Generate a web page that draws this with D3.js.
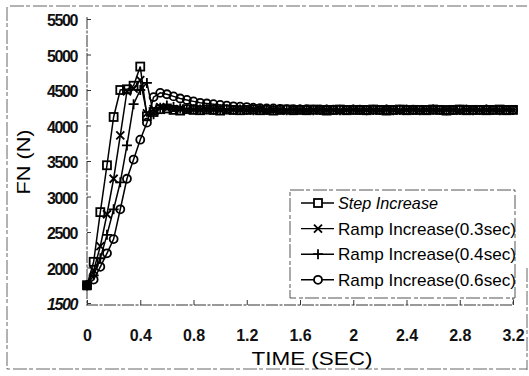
<!DOCTYPE html>
<html>
<head>
<meta charset="utf-8">
<script src="https://cdn.jsdelivr.net/npm/d3@7/dist/d3.min.js"></script>
<style>
  body { margin: 0; background: #fff; }
  svg { display: block; font-family: "Liberation Sans", Arial, sans-serif; }
</style>
</head>
<body>
<svg id="chart" width="529" height="376"></svg>
<script>
// sample times (sec)
const times = [0, 0.05, 0.1, 0.15, 0.2, 0.25, 0.3, 0.35, 0.4, 0.45, 0.5, 0.55, 0.6, 0.65, 0.7, 0.75,
  0.8, 0.85, 0.9, 0.95, 1.0, 1.05, 1.1, 1.15, 1.2, 1.25, 1.3, 1.35, 1.4, 1.45, 1.5, 1.55,
  1.6, 1.65, 1.7, 1.75, 1.8, 1.85, 1.9, 1.95, 2.0, 2.05, 2.1, 2.15, 2.2, 2.25, 2.3, 2.35,
  2.4, 2.45, 2.5, 2.55, 2.6, 2.65, 2.7, 2.75, 2.8, 2.85, 2.9, 2.95, 3.0, 3.05, 3.1, 3.15, 3.2];

// FN (N) per series
const stepIncrease = [1750, 2080, 2780, 3440, 4120, 4500, 4510, 4560, 4830, 4130, 4190, 4230, 4240, 4220, 4210, 4230,
  4220, 4215, 4225, 4220, 4210, 4225, 4220, 4215, 4220, 4225, 4215, 4220, 4210, 4220, 4225, 4215,
  4220, 4215, 4225, 4220, 4210, 4220, 4225, 4215, 4220, 4220, 4215, 4225, 4220, 4210, 4220, 4225,
  4215, 4220, 4220, 4215, 4225, 4220, 4210, 4220, 4225, 4215, 4220, 4220, 4215, 4220, 4225, 4215, 4220];
const ramp03 = [1750, 1960, 2300, 2750, 3250, 3860, 4480, 4520, 4640, 4170, 4230, 4260, 4240, 4220, 4230, 4215,
  4225, 4220, 4215, 4225, 4220, 4210, 4225, 4220, 4215, 4220, 4225, 4215, 4220, 4220, 4210, 4225,
  4220, 4215, 4220, 4225, 4215, 4220, 4210, 4220, 4225, 4215, 4220, 4220, 4215, 4225, 4220, 4210,
  4220, 4225, 4215, 4220, 4220, 4215, 4225, 4220, 4210, 4220, 4225, 4215, 4220, 4220, 4215, 4225, 4220];
const ramp04 = [1750, 1890, 2130, 2460, 2820, 3200, 3720, 4300, 4500, 4600, 4160, 4250, 4280, 4260, 4240, 4235,
  4230, 4225, 4230, 4220, 4225, 4230, 4220, 4225, 4220, 4215, 4225, 4220, 4220, 4225, 4215, 4220,
  4225, 4220, 4215, 4220, 4225, 4220, 4215, 4220, 4225, 4220, 4215, 4220, 4220, 4225, 4215, 4220,
  4225, 4220, 4215, 4220, 4225, 4220, 4215, 4220, 4220, 4225, 4215, 4220, 4225, 4220, 4215, 4220, 4220];
const ramp06 = [1750, 1830, 2010, 2200, 2400, 2820, 3250, 3520, 3800, 4040, 4400, 4460, 4440, 4410, 4380, 4360,
  4340, 4320, 4310, 4300, 4290, 4280, 4270, 4265, 4260, 4250, 4245, 4240, 4240, 4235, 4230, 4232,
  4228, 4230, 4225, 4228, 4225, 4222, 4225, 4220, 4225, 4222, 4220, 4225, 4220, 4222, 4220, 4225,
  4220, 4222, 4220, 4218, 4222, 4220, 4220, 4218, 4222, 4220, 4218, 4220, 4222, 4220, 4218, 4220, 4220];

const seriesNames = ['Step Increase', 'Ramp Increase(0.3sec)', 'Ramp Increase(0.4sec)', 'Ramp Increase(0.6sec)'];
const seriesValues = [stepIncrease, ramp03, ramp04, ramp06];
const seriesMarkers = ['square', 'cross', 'plus', 'circle'];

const xTicks = [0, 0.4, 0.8, 1.2, 1.6, 2, 2.4, 2.8, 3.2];
const yTicks = [1500, 2000, 2500, 3000, 3500, 4000, 4500, 5000, 5500];

const svg = d3.select('#chart');

const x = d3.scaleLinear().domain([0, 3.2]).range([87, 513]);
const y = d3.scaleLinear().domain([1500, 5500]).range([303, 19]);

// scanned outer frame
svg.append('path')
  .attr('d', 'M10,6 H527 M7,7 V369 H527 M527,268 V370')
  .attr('fill', 'none')
  .attr('stroke', '#666')
  .attr('stroke-width', 1)
  .attr('stroke-dasharray', '14,2,4,3');

// y axis
const yAxis = svg.append('g')
  .attr('transform', `translate(${x(0)},0)`)
  .call(d3.axisLeft(y).tickValues(yTicks).tickSizeInner(-4).tickSizeOuter(0).tickPadding(10)
    .tickFormat(d3.format('d')));
yAxis.select('.domain').attr('d', `M0,${y(5500) - 2} V${y(1500) + 2}`)
  .attr('stroke', '#333').attr('stroke-dasharray', '12,1.5,3,1.5');
yAxis.selectAll('.tick line').attr('stroke', '#333');
yAxis.selectAll('.tick text')
  .attr('font-size', 16).attr('font-weight', 'bold').attr('fill', '#111')
  .attr('letter-spacing', -1.4).attr('dy', '0.42em')
  .attr('font-style', (d) => d === 1500 ? 'italic' : 'normal');

// x axis
const xAxis = svg.append('g')
  .attr('transform', `translate(0,${y(1500) + 2})`)
  .call(d3.axisBottom(x).tickValues(xTicks).tickSizeInner(-5).tickSizeOuter(0).tickPadding(25)
    .tickFormat((d) => d3.format('')(d)));
xAxis.select('.domain').attr('d', `M${x(0) - 1},0 H${x(3.2)} V-7`)
  .attr('stroke', '#333').attr('stroke-dasharray', '12,1.5,3,1.5');
xAxis.selectAll('.tick line').attr('stroke', '#333');
xAxis.selectAll('.tick text')
  .attr('font-size', 16).attr('font-weight', 'bold').attr('fill', '#111');

// axis titles
svg.append('text')
  .attr('x', 312).attr('y', 365)
  .attr('text-anchor', 'middle')
  .attr('font-size', 18)
  .attr('textLength', 121).attr('lengthAdjust', 'spacingAndGlyphs')
  .text('TIME (SEC)');

svg.append('text')
  .attr('transform', 'translate(30,162) rotate(-90)')
  .attr('text-anchor', 'middle')
  .attr('font-size', 18)
  .attr('textLength', 65).attr('lengthAdjust', 'spacingAndGlyphs')
  .text('FN (N)');

// markers
function drawMarker(g, kind, cx, cy, fill) {
  if (kind === 'square') {
    g.append('rect').attr('x', cx - 4).attr('y', cy - 4).attr('width', 8).attr('height', 8)
      .attr('fill', fill).attr('stroke', '#000').attr('stroke-width', 1.8);
  } else if (kind === 'circle') {
    g.append('circle').attr('cx', cx).attr('cy', cy).attr('r', 4)
      .attr('fill', fill).attr('stroke', '#000').attr('stroke-width', 1.8);
  } else if (kind === 'cross') {
    g.append('path').attr('d', `M${cx - 4},${cy - 4} L${cx + 4},${cy + 4} M${cx - 4},${cy + 4} L${cx + 4},${cy - 4}`)
      .attr('stroke', '#000').attr('stroke-width', 1.8);
  } else {
    g.append('path').attr('d', `M${cx - 5},${cy} H${cx + 5} M${cx},${cy - 5} V${cy + 5}`)
      .attr('stroke', '#000').attr('stroke-width', 1.8);
  }
}

const line = d3.line().x((d) => x(d[0])).y((d) => y(d[1]));
const plot = svg.append('g');

seriesValues.forEach((vals, i) => {
  const pts = times.map((t, j) => [t, vals[j]]);
  plot.append('path').datum(pts)
    .attr('fill', 'none').attr('stroke', '#000').attr('stroke-width', 1.5)
    .attr('d', line);
});
seriesValues.forEach((vals, i) => {
  const g = plot.append('g');
  times.forEach((t, j) => drawMarker(g, seriesMarkers[i], x(t), y(vals[j]), 'none'));
});
// filled start point
plot.append('rect').attr('x', x(0) - 4).attr('y', y(1750) - 4).attr('width', 8).attr('height', 9).attr('fill', '#000');

// legend
const legend = svg.append('g');
legend.append('rect')
  .attr('x', 290).attr('y', 190).attr('width', 225).attr('height', 108)
  .attr('fill', '#fff').attr('stroke', '#555').attr('stroke-width', 1)
  .attr('stroke-dasharray', '14,2,4,3');

const legendText = [[seriesNames[0], 100, 'italic'], [seriesNames[1], 178, 'normal'],
  [seriesNames[2], 178, 'normal'], [seriesNames[3], 178, 'normal']];
seriesNames.forEach((name, i) => {
  const cy = 203 + i * 25.6;
  const row = legend.append('g');
  row.append('line').attr('x1', 301).attr('x2', 334).attr('y1', cy).attr('y2', cy)
    .attr('stroke', '#000').attr('stroke-width', 1.4);
  drawMarker(row, seriesMarkers[i], 318, cy, '#fff');
  row.append('text')
    .attr('x', 338).attr('y', cy + 6)
    .attr('font-size', 17)
    .attr('font-style', legendText[i][2])
    .attr('textLength', legendText[i][1]).attr('lengthAdjust', 'spacingAndGlyphs')
    .text(name);
});
</script>
</body>
</html>
